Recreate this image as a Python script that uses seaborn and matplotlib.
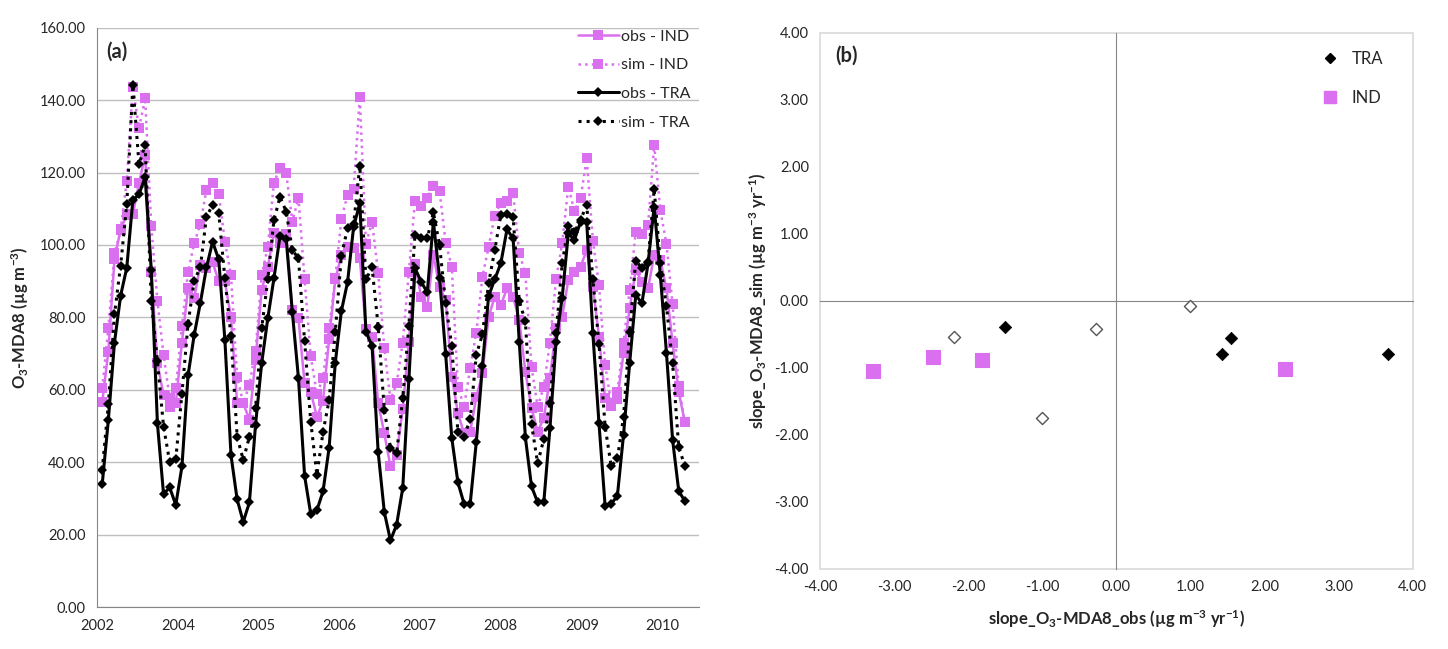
import numpy as np
import pandas as pd
import matplotlib
matplotlib.use("Agg")
import matplotlib.pyplot as plt
from matplotlib.ticker import FormatStrFormatter
from matplotlib.lines import Line2D
import seaborn as sns

# ---- panel (a): monthly O3-MDA8 series (ug m-3) ----
obs_tra = [34.0, 51.7, 73.1, 86.0, 93.7, 112.4, 114.0, 118.7, 93.1, 50.8, 31.3, 33.1,
           28.3, 38.9, 64.1, 75.2, 84.0, 93.8, 100.9, 96.0, 73.9, 42.0, 29.8, 23.6,
           29.0, 50.4, 67.4, 79.8, 90.8, 102.6, 101.6, 81.5, 63.2, 36.3, 25.8, 26.8,
           32.0, 44.1, 67.5, 81.8, 89.7, 105.1, 111.5, 76.1, 72.1, 42.8, 26.3, 18.5,
           22.8, 32.9, 62.9, 93.6, 89.9, 86.9, 106.4, 91.0, 69.9, 46.7, 34.5, 28.6,
           28.6, 45.7, 66.7, 85.9, 90.5, 95.0, 104.3, 101.8, 73.3, 46.9, 33.4, 29.0,
           29.0, 49.4, 73.3, 85.5, 103.2, 101.4, 106.4, 106.4, 75.6, 50.8, 28.0, 28.6,
           30.8, 47.6, 67.4, 86.2, 83.9, 94.9, 110.6, 91.8, 70.3, 46.3, 32.2, 29.3]
sim_tra = [37.9, 56.0, 80.9, 94.3, 111.2, 144.1, 122.3, 127.6, 84.6, 68.0, 49.9, 40.2,
           41.0, 59.0, 78.3, 90.2, 93.8, 107.8, 111.0, 108.9, 90.8, 74.8, 47.1, 40.7,
           47.1, 54.9, 77.0, 90.5, 106.9, 113.3, 109.2, 98.6, 96.3, 73.5, 51.3, 36.6,
           48.3, 57.2, 76.0, 97.1, 104.6, 105.8, 121.8, 90.5, 93.8, 77.5, 54.5, 44.1,
           42.5, 57.7, 77.7, 102.8, 102.0, 101.8, 109.0, 100.0, 83.9, 72.1, 48.3, 47.1,
           51.9, 69.7, 75.4, 89.4, 98.6, 108.3, 108.5, 107.6, 84.6, 78.9, 50.5, 39.8,
           46.4, 56.5, 75.6, 94.9, 105.2, 103.5, 107.0, 111.0, 90.6, 72.8, 49.9, 38.9,
           41.1, 52.5, 76.1, 95.7, 93.6, 95.4, 115.4, 95.1, 83.1, 67.4, 44.3, 39.0]
obs_ind = [56.6, 70.6, 96.0, 104.3, 108.3, 108.6, 117.0, 124.8, 92.6, 67.4, 58.6, 55.4,
           56.3, 73.1, 88.0, 85.4, 94.5, 93.6, 95.2, 90.0, 90.0, 80.0, 56.4, 56.3,
           51.8, 68.4, 87.6, 94.0, 103.2, 100.5, 103.0, 82.1, 79.8, 61.8, 59.5, 52.6,
           57.0, 74.0, 90.5, 97.2, 99.5, 99.1, 96.3, 76.7, 74.7, 56.3, 48.0, 38.9,
           42.1, 54.7, 73.3, 94.8, 85.7, 83.0, 97.2, 88.5, 84.8, 63.7, 53.6, 48.0,
           48.5, 58.0, 64.6, 80.2, 85.7, 83.4, 88.0, 85.7, 79.3, 65.0, 55.0, 48.5,
           52.2, 63.2, 77.2, 80.2, 90.3, 92.6, 94.0, 98.6, 88.5, 74.7, 57.7, 55.6,
           57.5, 70.1, 82.5, 93.1, 89.9, 88.0, 97.2, 95.9, 88.0, 73.1, 59.5, 51.1]
sim_ind = [60.5, 77.0, 97.7, 104.0, 117.7, 143.5, 132.2, 140.5, 105.3, 84.6, 69.7, 57.7,
           60.5, 77.7, 92.6, 100.5, 105.7, 115.3, 117.2, 114.2, 100.9, 91.7, 63.6, 56.3,
           61.4, 70.8, 91.6, 99.5, 117.2, 121.3, 119.8, 106.4, 113.1, 90.5, 69.4, 58.9,
           63.2, 77.0, 90.8, 107.2, 113.8, 115.4, 140.9, 100.3, 106.4, 92.2, 71.5, 57.2,
           61.8, 73.1, 92.6, 112.2, 110.8, 112.9, 116.3, 115.0, 100.6, 94.0, 60.9, 55.4,
           66.0, 75.8, 91.3, 99.4, 108.1, 111.7, 112.1, 114.4, 97.7, 92.2, 66.4, 55.4,
           60.9, 73.1, 90.5, 100.5, 116.1, 109.4, 112.9, 123.9, 101.2, 89.0, 66.9, 56.3,
           59.5, 73.1, 87.6, 103.7, 103.0, 105.5, 127.6, 109.7, 100.3, 83.6, 61.1, 51.1]

# category-axis labels of the original chart (position in point index units)
year_labels = ["2002", "2004", "2005", "2006", "2007", "2008", "2009", "2010"]
year_pos = [-0.8, 12.4, 25.45, 38.6, 51.7, 64.9, 78.3, 91.3]

# ---- panel (b): trend slopes (ug m-3 yr-1) ----
tra_obs = [-1.50, 1.42, 1.55, 3.67]
tra_sim = [-0.39, -0.79, -0.55, -0.79]
tra_open_obs = [-2.19, -0.28, -1.00, 0.99]
tra_open_sim = [-0.54, -0.42, -1.74, -0.08]
ind_obs = [-3.28, -2.47, -1.81, 2.28]
ind_sim = [-1.05, -0.83, -0.88, -1.02]

MAG = "#DA6FF0"
GREY = "#868686"

sns.set_style("white")
plt.rcParams["font.family"] = ["Lato", "DejaVu Sans"]
plt.rcParams["mathtext.fontset"] = "custom"
plt.rcParams["mathtext.rm"] = "Lato"
plt.rcParams["mathtext.bf"] = "Lato:bold"
plt.rcParams["mathtext.default"] = "bf"

fig = plt.figure(figsize=(14.48, 6.49), dpi=100)
ax1 = fig.add_axes([0.0672, 0.064, 0.4155, 0.8936])
ax2 = fig.add_axes([0.5663, 0.1233, 0.4093, 0.826])

idx = np.arange(len(obs_tra))
series = [
    ("obs - IND", obs_ind, MAG, "-", "s", 6.5, 1.8),
    ("sim - IND", sim_ind, MAG, ":", "s", 6.5, 1.8),
    ("obs - TRA", obs_tra, "black", "-", "D", 5.0, 2.2),
    ("sim - TRA", sim_tra, "black", ":", "D", 5.0, 2.2),
]
for name, vals, col, ls, mk, ms, lw in series:
    sns.lineplot(x=idx, y=vals, ax=ax1, color=col, linestyle=ls, linewidth=lw,
                 marker=mk, markersize=ms, markeredgewidth=0, label=name,
                 dashes=False if ls == "-" else (1, 1.3))

ax1.set_xlim(-0.8, 97.3)
ax1.set_ylim(0, 160)
ax1.set_yticks(np.arange(0, 161, 20))
ax1.yaxis.set_major_formatter(FormatStrFormatter("%.2f"))
ax1.set_xticks(year_pos)
ax1.set_xticklabels(year_labels)
ax1.yaxis.grid(True, color="#bfbfbf", linewidth=1)
ax1.set_axisbelow(True)
for s in ["top", "right"]:
    ax1.spines[s].set_visible(False)
for s in ["left", "bottom"]:
    ax1.spines[s].set_color(GREY)
ax1.tick_params(axis="both", direction="out", length=5, color=GREY, labelsize=10.5)
ax1.set_ylabel("O$_3$-MDA8 (µg m$^{-3}$)", fontsize=12, fontweight="bold", labelpad=6)
ax1.set_xlabel("")
ax1.text(0.015, 0.975, "(a)", transform=ax1.transAxes, fontsize=14.5, fontweight="bold",
         va="top")
ax1.legend(loc="upper right", bbox_to_anchor=(1.0, 1.01), frameon=False,
           fontsize=11.5, handlelength=2.6, labelspacing=0.9, handletextpad=0.15,
           borderaxespad=0.1)

# ---- panel (b) ----
sns.scatterplot(x=tra_obs, y=tra_sim, ax=ax2, marker="D", s=40, color="black",
                edgecolor="black", label="TRA", zorder=3)
sns.scatterplot(x=tra_open_obs, y=tra_open_sim, ax=ax2, marker="D", s=38,
                facecolor="white", edgecolor="#555555", linewidth=1, zorder=3)
sns.scatterplot(x=ind_obs, y=ind_sim, ax=ax2, marker="s", s=100, color=MAG,
                edgecolor=MAG, label="IND", zorder=3)

ticks = np.arange(-4, 4.1, 1)
ax2.set_xlim(-4, 4)
ax2.set_ylim(-4, 4)
ax2.set_xticks(ticks)
ax2.set_yticks(ticks)
ax2.spines["left"].set_position(("data", 0))
ax2.spines["bottom"].set_position(("data", 0))
for s in ["top", "right"]:
    ax2.spines[s].set_visible(False)
for s in ["left", "bottom"]:
    ax2.spines[s].set_color(GREY)
ax2.tick_params(axis="both", direction="out", length=5, color=GREY,
                labelleft=False, labelbottom=False)
ax2.patch.set_edgecolor("#d9d9d9")
ax2.patch.set_linewidth(1.2)

secx = ax2.secondary_xaxis("bottom")
secx.set_xticks(ticks)
secx.xaxis.set_major_formatter(FormatStrFormatter("%.2f"))
secx.tick_params(length=0, labelsize=10.5, pad=8)
secx.spines["bottom"].set_visible(False)
secx.set_xlabel("slope_O$_3$-MDA8_obs (µg m$^{-3}$ yr$^{-1}$)", fontsize=12,
                fontweight="bold", labelpad=10)
secy = ax2.secondary_yaxis("left")
secy.set_yticks(ticks)
secy.yaxis.set_major_formatter(FormatStrFormatter("%.2f"))
secy.tick_params(length=0, labelsize=10.5, pad=8)
secy.spines["left"].set_visible(False)
secy.set_ylabel("slope_O$_3$-MDA8_sim (µg m$^{-3}$ yr$^{-1}$)", fontsize=12,
                fontweight="bold", labelpad=4)
ax2.set_xlabel("")
ax2.set_ylabel("")
ax2.text(0.025, 0.976, "(b)", transform=ax2.transAxes, fontsize=14.5, fontweight="bold",
         va="top")
handles = [Line2D([], [], marker="D", color="black", linestyle="none", markersize=5.5),
           Line2D([], [], marker="s", color=MAG, linestyle="none", markersize=8)]
ax2.legend(handles, ["TRA", "IND"], loc="upper right", bbox_to_anchor=(0.975, 0.995),
           frameon=False, fontsize=12, labelspacing=1.4, handletextpad=0.3)

fig.savefig("out.png", dpi=100)
